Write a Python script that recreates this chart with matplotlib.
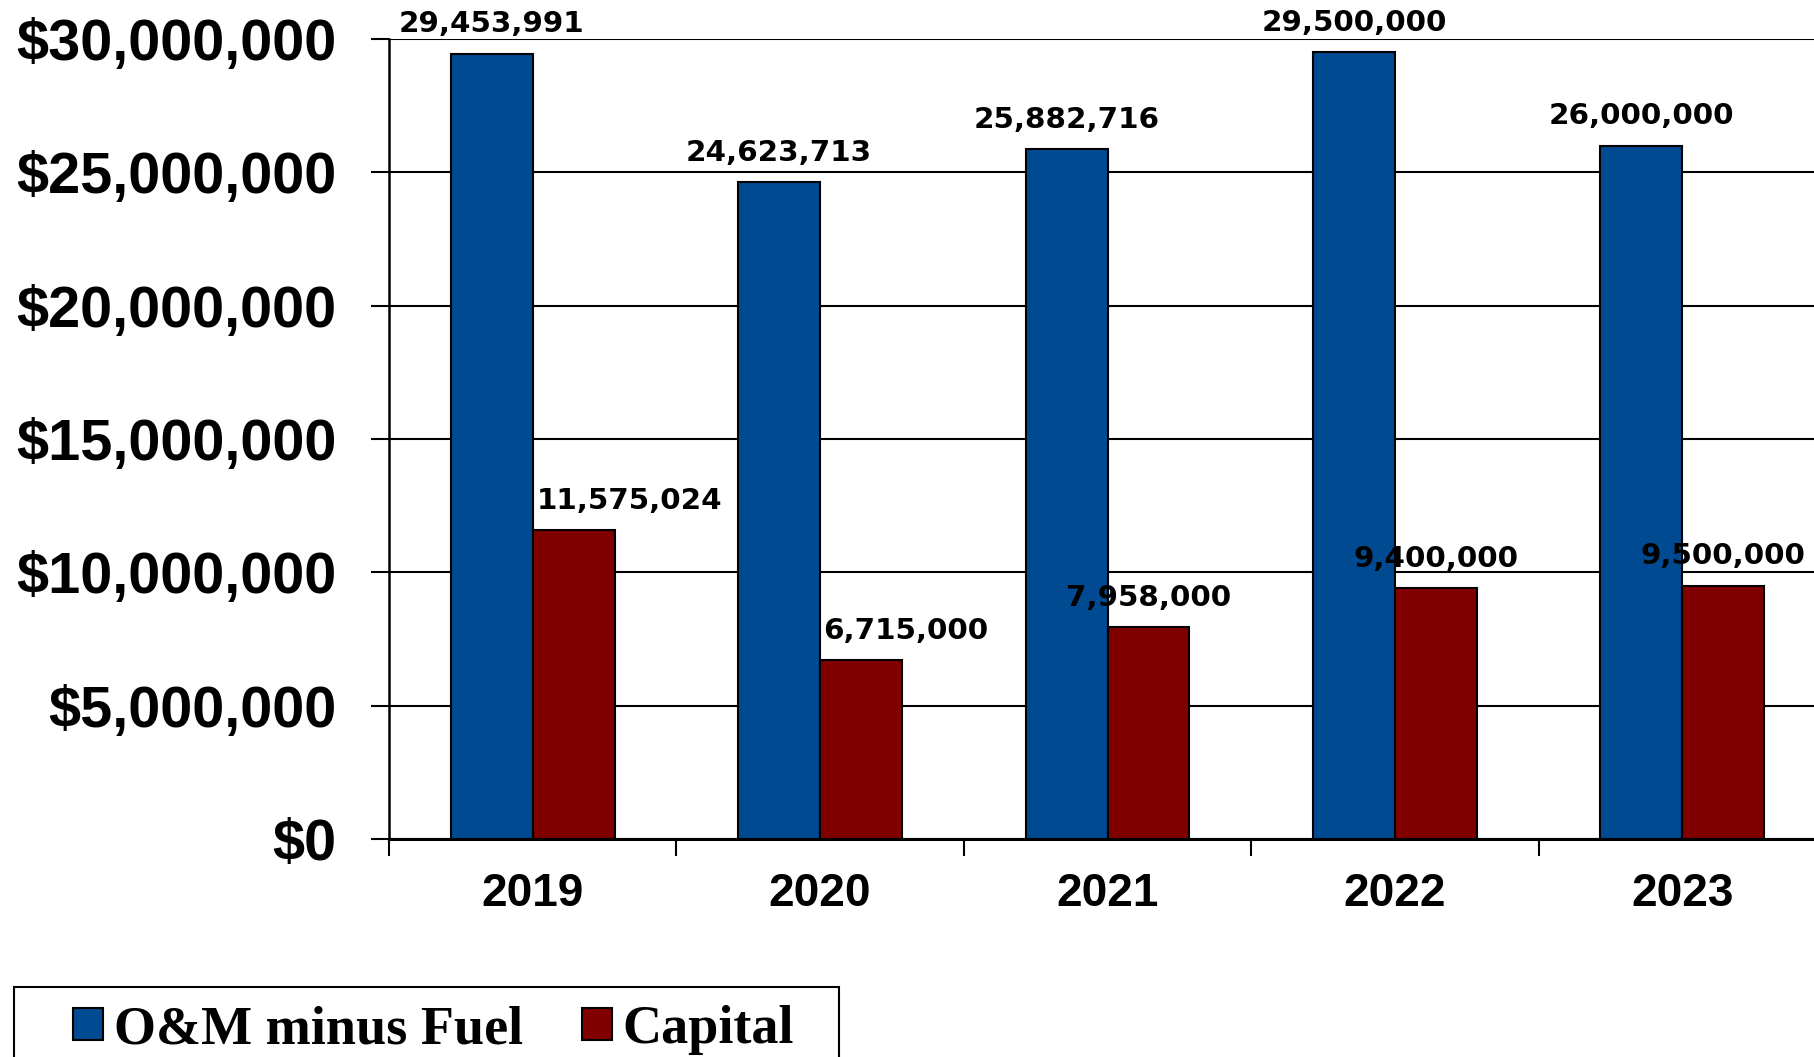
import matplotlib.pyplot as plt
from matplotlib.patches import Rectangle
from matplotlib.ticker import FuncFormatter, FixedLocator
import numpy as np

# Data
years = ["2019", "2020", "2021", "2022", "2023"]
om_minus_fuel = [29453991, 24623713, 25882716, 29500000, 26000000]
capital = [11575024, 6715000, 7958000, 9400000, 9500000]

# a couple of capital labels sit right of their bar in the original
capital_label_dx = [40, 32, 0, 0, 0]

blue = "#004a92"
red = "#800000"

fig = plt.figure(figsize=(18.14, 10.57), dpi=100)
ax = fig.add_axes([389 / 1814, 1 - 839 / 1057, (1826 - 389) / 1814, (839 - 39) / 1057])

x = np.arange(len(years))
w = 0.285
b1 = ax.bar(x - w / 2, om_minus_fuel, w, color=blue, edgecolor="black", linewidth=1.5,
            label="O&M minus Fuel", zorder=3)
b2 = ax.bar(x + w / 2, capital, w, color=red, edgecolor="black", linewidth=1.5,
            label="Capital", zorder=3)

# value labels
lab_font = dict(family="DejaVu Sans", weight="bold", fontsize=21.2)
for i, v in enumerate(om_minus_fuel):
    ax.annotate(f"{v:,}", (x[i] - w / 2, v), xytext=(0, 21), textcoords="offset points",
                ha="center", va="center", annotation_clip=False, **lab_font)
for i, v in enumerate(capital):
    ax.annotate(f"{v:,}", (x[i] + w / 2, v), xytext=(capital_label_dx[i], 21),
                textcoords="offset points", ha="center", va="center",
                annotation_clip=False, zorder=5, **lab_font)

# axes
ax.set_ylim(0, 30000000)
ax.set_xlim(-0.5, len(years) - 0.5)
ax.set_yticks(np.arange(0, 30000001, 5000000))
ax.yaxis.set_major_formatter(FuncFormatter(lambda v, p: f"${v:,.0f}"))
ax.grid(axis="y", color="black", linewidth=1.5, zorder=0)
ax.set_axisbelow(True)

ax.set_xticks(x)
ax.set_xticklabels(years)
ax.xaxis.set_minor_locator(FixedLocator(np.arange(-0.5, len(years), 1.0)))
ax.tick_params(axis="x", which="major", length=0, pad=24)
ax.tick_params(axis="x", which="minor", length=12, width=1.5, direction="out")
ax.tick_params(axis="y", length=13, width=1.5, direction="out", pad=25)

for lbl in ax.get_yticklabels():
    lbl.set_fontfamily("Liberation Sans")
    lbl.set_fontweight("bold")
    lbl.set_fontsize(41.5)
for lbl in ax.get_xticklabels():
    lbl.set_fontfamily("Liberation Sans")
    lbl.set_fontweight("bold")
    lbl.set_fontsize(33)

for s in ["top", "right"]:
    ax.spines[s].set_visible(False)
ax.spines["left"].set_linewidth(1.8)
ax.spines["bottom"].set_linewidth(2.2)

# legend
fig.patches.append(Rectangle((14 / 1814, -0.05), (839 - 14) / 1814, 0.05 + (1057 - 987) / 1057,
                             transform=fig.transFigure, fill=False, edgecolor="black",
                             linewidth=1.5))
fig.legend(handles=[b1, b2], loc="center left", bbox_to_anchor=(73 / 1814, 1 - 1030 / 1057),
           ncol=2, frameon=False, borderpad=0, borderaxespad=0,
           handlelength=0.55, handleheight=0.55, handletextpad=0.2, columnspacing=1.1,
           prop=dict(family="Liberation Serif", weight="bold", size=39))

fig.savefig("out.png", dpi=100)
